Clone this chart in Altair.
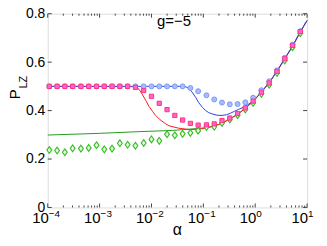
import altair as alt
import pandas as pd

# ---------------- data ----------------
marker_log_alpha = [-3.97, -3.82, -3.67, -3.52, -3.36, -3.21, -3.06, -2.91, -2.76, -2.61,
                    -2.46, -2.31, -2.15, -2.00, -1.85, -1.70, -1.55, -1.40, -1.25, -1.10,
                    -0.94, -0.79, -0.64, -0.49, -0.34, -0.19, -0.04, 0.12, 0.27, 0.42,
                    0.57, 0.72, 0.87]
blue_circles = [0.5, 0.5, 0.5, 0.5, 0.5, 0.5, 0.5, 0.5, 0.5, 0.5,
                0.5, 0.5, 0.5, 0.5, 0.5, 0.5, 0.5, 0.5, 0.493, 0.480,
                0.463, 0.446, 0.433, 0.426, 0.427, 0.434, 0.453, 0.484, 0.521, 0.566,
                0.618, 0.672, 0.728]
pink_squares = [0.5, 0.5, 0.5, 0.5, 0.5, 0.5, 0.5, 0.5, 0.5, 0.5,
                0.5, 0.496, 0.483, 0.459, 0.430, 0.404, 0.380, 0.361, 0.347, 0.340,
                0.341, 0.345, 0.359, 0.369, 0.388, 0.411, 0.439, 0.476, 0.514, 0.562,
                0.614, 0.669, 0.726]
green_diamonds = [0.237, 0.235, 0.228, 0.244, 0.243, 0.246, 0.257, 0.240, 0.243, 0.265,
                  0.259, 0.255, 0.266, 0.281, 0.275, 0.302, 0.298, 0.304, 0.308, 0.317,
                  0.332, 0.333, 0.349, 0.363, 0.381, 0.405, 0.432, 0.469, 0.507, 0.555,
                  0.607, 0.662, 0.719]

red_line_log_alpha = [-4.0, -2.30, -2.24, -2.18, -2.11, -2.05, -1.98, -1.92, -1.85, -1.73,
                      -1.66, -1.47, -1.28, -1.09, -0.90, -0.70, -0.51, -0.32, -0.18, -0.03,
                      0.12, 0.27, 0.42, 0.57, 0.73, 0.87, 1.0]
red_line_p = [0.5, 0.499, 0.488, 0.468, 0.442, 0.418, 0.397, 0.380, 0.365, 0.346,
              0.337, 0.327, 0.322, 0.323, 0.330, 0.343, 0.362, 0.388, 0.411, 0.440,
              0.476, 0.515, 0.562, 0.614, 0.669, 0.725, 0.772]

blue_line_log_alpha = [-4.0, -1.36, -1.28, -1.22, -1.15, -1.09, -1.02, -0.96, -0.90, -0.83,
                       -0.74, -0.64, -0.55, -0.48, -0.40, -0.32, -0.18, -0.03, 0.12, 0.27,
                       0.42, 0.57, 0.73, 0.87, 1.0]
blue_line_p = [0.5, 0.5, 0.492, 0.477, 0.455, 0.433, 0.414, 0.401, 0.392, 0.386,
               0.381, 0.380, 0.383, 0.389, 0.397, 0.405, 0.418, 0.442, 0.477, 0.516,
               0.563, 0.615, 0.670, 0.726, 0.772]

green_line_log_alpha = [-4.0, -3.0, -2.24, -1.60, -1.28, -1.09, -0.90, -0.70, -0.51, -0.32,
                        -0.18, -0.03, 0.12, 0.27, 0.42, 0.57, 0.73, 0.87, 1.0]
green_line_p = [0.299, 0.306, 0.313, 0.318, 0.323, 0.326, 0.331, 0.343, 0.362, 0.388,
                0.411, 0.440, 0.476, 0.515, 0.562, 0.614, 0.669, 0.725, 0.772]

x_decades = [1e-4, 1e-3, 1e-2, 1e-1, 1e0, 1e1]
x_exponents = ["\u22124", "\u22123", "\u22122", "\u22121", "0", "1"]
x_minor = [m * d for d in [1e-4, 1e-3, 1e-2, 1e-1, 1e0] for m in range(2, 10)]
y_ticks = [0, 0.2, 0.4, 0.6, 0.8]

# ---------------- chart ----------------
W, H = 261, 195
FONT = "Liberation Sans"
xscale = alt.Scale(type="log", domain=[1e-4, 10], nice=False)
yscale = alt.Scale(domain=[0, 0.8], nice=False, zero=False)
yaxis = alt.Axis(values=y_ticks, ticks=False, domain=False, grid=False, title=None,
                 labelFontSize=14, labelFont=FONT, labelColor="black", labelPadding=3,
                 labelExpr="datum.value == 0 ? '0' : format(datum.value, '.1f')")


def line_df(la, p):
    return pd.DataFrame({"alpha": [10 ** v for v in la], "p": p})


markers = pd.DataFrame({"alpha": [10 ** v for v in marker_log_alpha],
                        "blue": blue_circles, "pink": pink_squares, "green": green_diamonds})

X = alt.X("alpha:Q", scale=xscale, axis=None)


def line(df, color):
    return alt.Chart(df).mark_line(color=color, strokeWidth=1).encode(
        x=X, y=alt.Y("p:Q", scale=yscale, axis=yaxis))


lines = [
    line(line_df(green_line_log_alpha, green_line_p), "#1f9e1f"),
    line(line_df(red_line_log_alpha, red_line_p), "#ff1a1a"),
    line(line_df(blue_line_log_alpha, blue_line_p), "#3040e6"),
]

mk = alt.Chart(markers)
green_pts = mk.mark_point(shape="M0,-1L0.72,0L0,1L-0.72,0Z", filled=True, fill="#e2ffdc",
                          stroke="#33bb22", strokeWidth=1.1, size=46, opacity=1).encode(
    x=X, y=alt.Y("green:Q", scale=yscale, axis=yaxis))
blue_pts = mk.mark_point(shape="circle", filled=True, fill="#a9bcff", stroke="#7b96f0",
                         strokeWidth=1, size=25, opacity=1).encode(
    x=X, y=alt.Y("blue:Q", scale=yscale, axis=yaxis))
pink_pts = mk.mark_point(shape="square", filled=True, fill="#ff66cc", stroke="#ff3380",
                         strokeWidth=1, size=18, opacity=1).encode(
    x=X, y=alt.Y("pink:Q", scale=yscale, axis=yaxis))

# tick marks (inside, on all four sides)
dec_df = pd.DataFrame({"v": x_decades, "e": x_exponents})
minor_df = pd.DataFrame({"v": x_minor})
yt_df = pd.DataFrame({"v": y_ticks})
TX = alt.X("v:Q", scale=xscale, axis=None)
TY = alt.Y("v:Q", scale=yscale, axis=yaxis)
tick_color = "#444444"
ticks = [
    alt.Chart(dec_df).mark_rule(color=tick_color, strokeWidth=1).encode(x=TX, y=alt.value(H), y2=alt.value(H - 4)),
    alt.Chart(dec_df).mark_rule(color=tick_color, strokeWidth=1).encode(x=TX, y=alt.value(0), y2=alt.value(4)),
    alt.Chart(minor_df).mark_rule(color=tick_color, strokeWidth=1).encode(x=TX, y=alt.value(H), y2=alt.value(H - 2)),
    alt.Chart(minor_df).mark_rule(color=tick_color, strokeWidth=1).encode(x=TX, y=alt.value(0), y2=alt.value(2)),
    alt.Chart(yt_df).mark_rule(color=tick_color, strokeWidth=1).encode(y=TY, x=alt.value(0), x2=alt.value(4)),
    alt.Chart(yt_df).mark_rule(color=tick_color, strokeWidth=1).encode(y=TY, x=alt.value(W), x2=alt.value(W - 4)),
]

# x tick labels 10^n
base_lbl = alt.Chart(dec_df).mark_text(align="right", baseline="alphabetic", dx=1,
                                       fontSize=15, font=FONT, color="black").encode(
    x=TX, y=alt.value(H + 16), text=alt.value("10"))
exp_lbl = alt.Chart(dec_df).mark_text(align="left", baseline="alphabetic", dx=1,
                                      fontSize=10, font=FONT, color="black").encode(
    x=TX, y=alt.value(H + 10), text="e:N")

# annotations / titles
one = pd.DataFrame({"a": [0]})
g_text = alt.Chart(one).mark_text(align="left", baseline="alphabetic", fontSize=15,
                                  font=FONT, color="black").encode(
    x=alt.value(110), y=alt.value(12), text=alt.value("g=\u22125"))
alpha_text = alt.Chart(one).mark_text(align="center", baseline="alphabetic", fontSize=16,
                                      font=FONT, color="black").encode(
    x=alt.value(W / 2), y=alt.value(223), text=alt.value("\u03b1"))
p_text = alt.Chart(one).mark_text(align="center", baseline="middle", angle=270, fontSize=15,
                                  font=FONT, color="black").encode(
    x=alt.value(-33), y=alt.value(81), text=alt.value("P"))
lz_text = alt.Chart(one).mark_text(align="center", baseline="middle", angle=270, fontSize=11,
                                   font=FONT, color="black").encode(
    x=alt.value(-24), y=alt.value(69), text=alt.value("LZ"))

chart = alt.layer(
    *ticks, *lines, green_pts, blue_pts, pink_pts,
    base_lbl, exp_lbl, g_text, alpha_text, p_text, lz_text
).properties(
    width=W, height=H,
    autosize=alt.AutoSizeParams(type="none"),
    padding={"left": 40, "top": 5, "right": 12, "bottom": 30},
).configure_view(stroke="black", strokeWidth=1).configure(background="white")

chart.save("out.html", embed_options={"renderer": "svg", "actions": False})
